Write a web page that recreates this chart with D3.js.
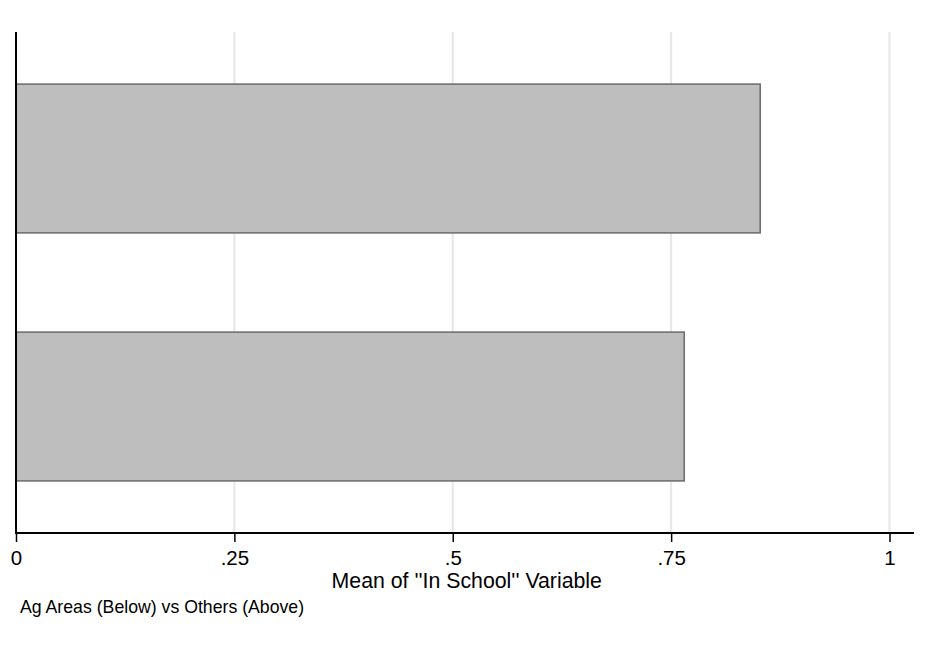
<!DOCTYPE html>
<html>
<head>
<meta charset="utf-8">
<script src="https://cdn.jsdelivr.net/npm/d3@7"></script>
<style>
  html, body { margin: 0; padding: 0; background: #fff; }
  svg { display: block; }
  text { font-family: "Liberation Sans", Arial, sans-serif; fill: #000; }
</style>
</head>
<body>
<svg id="chart" width="927" height="645"></svg>
<script>
// Data
const categories = ["Others (Above)", "Ag Areas (Below)"];
const values = [0.852, 0.765];
const tickValues = [0, 0.25, 0.5, 0.75, 1];
const tickLabels = ["0", ".25", ".5", ".75", "1"];
const xTitle = "Mean of ''In School'' Variable";
const note = "Ag Areas (Below) vs Others (Above)";

const svg = d3.select("#chart");
const W = 927, H = 645;
svg.append("rect").attr("width", W).attr("height", H).attr("fill", "#fff");

const plot = { left: 16, right: 914, top: 32, bottom: 533 };

const x = d3.scaleLinear().domain([0, 1]).range([16, 889.5]);
const y = d3.scaleBand().domain(categories).range([plot.top, plot.bottom])
  .paddingInner(0.4).paddingOuter(0.21);

// gridlines
svg.append("g").selectAll("line").data(tickValues.filter(d => d > 0)).join("line")
  .attr("x1", d => x(d)).attr("x2", d => x(d))
  .attr("y1", plot.top).attr("y2", plot.bottom)
  .attr("stroke", "#e6e6e6").attr("stroke-width", 2);

// bars
svg.append("g").selectAll("rect").data(categories).join("rect")
  .attr("x", x(0))
  .attr("y", d => y(d))
  .attr("width", (d, i) => x(values[i]) - x(0))
  .attr("height", y.bandwidth())
  .attr("fill", "#bebebe")
  .attr("stroke", "#6a6a6a")
  .attr("stroke-width", 1.5);

// y axis line
svg.append("line")
  .attr("x1", plot.left).attr("x2", plot.left)
  .attr("y1", plot.top).attr("y2", plot.bottom + 1)
  .attr("stroke", "#000").attr("stroke-width", 2);

// x axis
const xAxis = d3.axisBottom(x).tickValues(tickValues)
  .tickFormat((d, i) => tickLabels[i]).tickSize(9).tickPadding(8);
const gx = svg.append("g").attr("transform", `translate(0,${plot.bottom})`).call(xAxis);
gx.select(".domain").remove();
gx.selectAll(".tick line").attr("stroke", "#000").attr("stroke-width", 1.5);
gx.selectAll(".tick text").attr("font-size", 20.5)
  .attr("font-family", "Liberation Sans, Arial, sans-serif").attr("fill", "#000");
svg.append("line")
  .attr("x1", plot.left - 1).attr("x2", plot.right)
  .attr("y1", plot.bottom).attr("y2", plot.bottom)
  .attr("stroke", "#000").attr("stroke-width", 2);

// axis title
svg.append("text")
  .attr("x", x(0.5) + 14).attr("y", 588)
  .attr("text-anchor", "middle").attr("font-size", 21.3)
  .text(xTitle);

// note
svg.append("text")
  .attr("x", 20).attr("y", 613)
  .attr("font-size", 17.7)
  .text(note);
</script>
</body>
</html>
